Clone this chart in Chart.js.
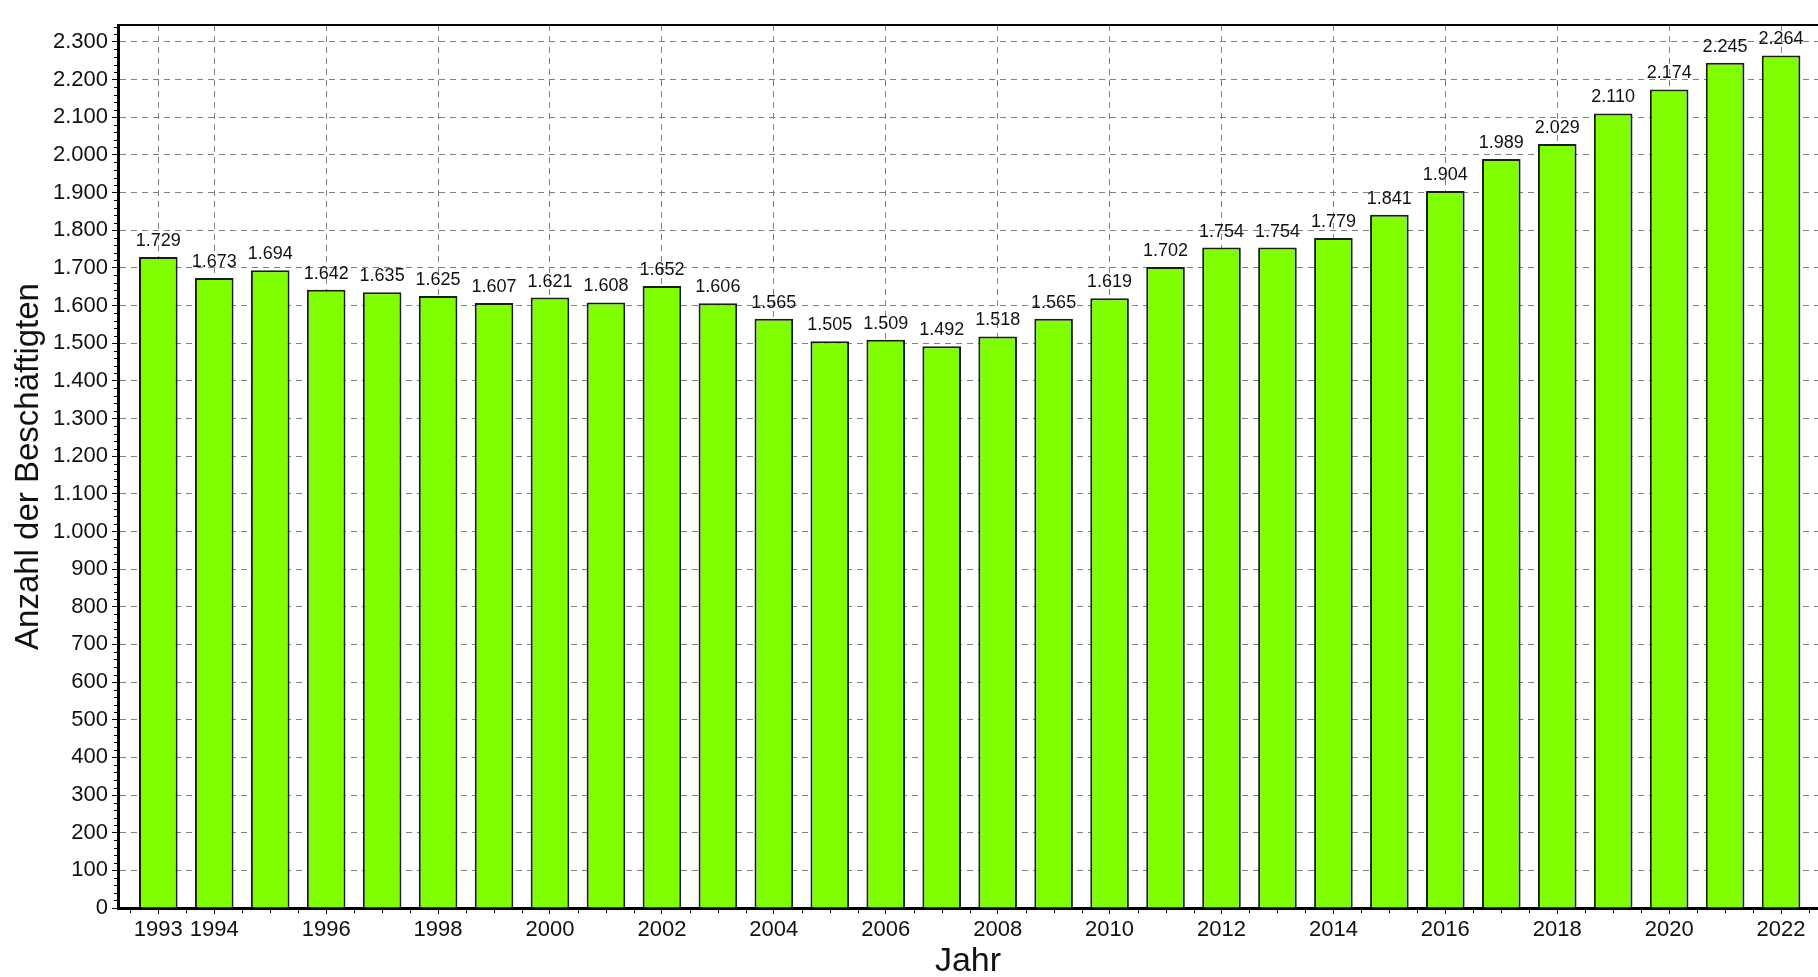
<!DOCTYPE html>
<html>
<head>
<meta charset="utf-8">
<script src="https://cdn.jsdelivr.net/npm/chart.js@4.4.1/dist/chart.umd.min.js"></script>
<style>
  html, body { margin: 0; padding: 0; background: #fff; }
  #box { width: 1818px; height: 977px; position: relative; }
</style>
</head>
<body>
<div id="box"><canvas id="chart"></canvas></div>
<script>
const years = [1993, 1994, 1995, 1996, 1997, 1998, 1999, 2000, 2001, 2002,
  2003, 2004, 2005, 2006, 2007, 2008, 2009, 2010, 2011, 2012,
  2013, 2014, 2015, 2016, 2017, 2018, 2019, 2020, 2021, 2022];
const employees = [1729, 1673, 1694, 1642, 1635, 1625, 1607, 1621, 1608, 1652,
  1606, 1565, 1505, 1509, 1492, 1518, 1565, 1619, 1702, 1754,
  1754, 1779, 1841, 1904, 1989, 2029, 2110, 2174, 2245, 2264];
const xLabelYears = [1993, 1994, 1996, 1998, 2000, 2002, 2004, 2006, 2008, 2010,
  2012, 2014, 2016, 2018, 2020, 2022];

const C = {
  bar: "#80FF00",
  barEdge: "#1c1c1c",
  ink: "#111111",
  grid: "#808080",
  axis: "#000000"
};
const FONT = "'Liberation Sans', Arial, sans-serif";

const fmtDE = v => String(Math.round(v)).replace(/\B(?=(\d{3})+(?!\d))/g, ".");

// value labels above bars + top frame line + minor ticks
const extras = {
  id: "extras",
  afterDatasetsDraw(chart) {
    const ctx = chart.ctx;
    const meta = chart.getDatasetMeta(0);
    ctx.save();
    ctx.font = "18px " + FONT;
    ctx.fillStyle = C.ink;
    ctx.textAlign = "center";
    ctx.textBaseline = "bottom";
    meta.data.forEach((bar, i) => {
      ctx.fillText(fmtDE(employees[i]), bar.x, bar.y - 7);
    });
    ctx.restore();
  },
  afterDraw(chart) {
    const ctx = chart.ctx;
    const a = chart.chartArea;
    const xs = chart.scales.x;
    const ys = chart.scales.y;
    ctx.save();
    // top frame
    ctx.strokeStyle = C.axis;
    ctx.lineWidth = 2;
    ctx.beginPath();
    ctx.moveTo(a.left, a.top);
    ctx.lineTo(a.right, a.top);
    ctx.stroke();
    // minor ticks
    ctx.lineWidth = 1;
    ctx.beginPath();
    for (let v = Math.ceil(xs.min * 2) / 2; v <= xs.max; v += 0.5) {
      if (xLabelYears.includes(v)) continue;
      const px = Math.round(xs.getPixelForValue(v)) + 0.5;
      ctx.moveTo(px, a.bottom);
      ctx.lineTo(px, a.bottom + 5);
    }
    for (let v = 20; v <= ys.max; v += 20) {
      if (v % 100 === 0) continue;
      const py = Math.round(ys.getPixelForValue(v)) + 0.5;
      ctx.moveTo(a.left - 4, py);
      ctx.lineTo(a.left, py);
    }
    ctx.stroke();
    ctx.restore();
  }
};

new Chart(document.getElementById("chart"), {
  type: "bar",
  data: {
    datasets: [{
      data: years.map((y, i) => ({ x: y, y: employees[i] })),
      backgroundColor: C.bar,
      borderColor: C.barEdge,
      borderWidth: 2,
      borderSkipped: "bottom",
      categoryPercentage: 1,
      barPercentage: 0.69
    }]
  },
  options: {
    responsive: true,
    maintainAspectRatio: false,
    animation: false,
    layout: { padding: { top: 25, right: 0, left: 0, bottom: 0 } },
    plugins: { legend: { display: false }, tooltip: { enabled: false } },
    scales: {
      x: {
        type: "linear",
        min: 1992.28,
        max: 2022.66,
        offset: false,
        afterBuildTicks(scale) {
          scale.ticks = xLabelYears.map(v => ({ value: v }));
        },
        afterFit(scale) { scale.height = 69; },
        ticks: {
          autoSkip: false,
          maxRotation: 0,
          padding: 3,
          color: C.ink,
          font: { family: FONT, size: 22 },
          callback: v => String(v)
        },
        grid: {
          offset: false,
          color: C.grid,
          lineWidth: 1,
          tickColor: C.axis,
          tickLength: 6
        },
        border: { color: C.axis, width: 3, dash: [6, 5] },
        title: {
          display: true,
          text: "Jahr",
          color: C.ink,
          font: { family: FONT, size: 34, lineHeight: 0.9 },
          padding: { top: 0, bottom: 0 }
        }
      },
      y: {
        min: 0,
        max: 2345,
        afterFit(scale) { scale.width = 118; },
        ticks: {
          stepSize: 100,
          includeBounds: false,
          padding: 4,
          color: C.ink,
          font: { family: FONT, size: 22 },
          callback: v => fmtDE(v)
        },
        grid: {
          color: C.grid,
          lineWidth: 1,
          tickColor: C.axis,
          tickLength: 6
        },
        border: { color: C.axis, width: 3, dash: [6, 5] },
        title: {
          display: true,
          text: "Anzahl der Beschäftigten",
          color: C.ink,
          font: { family: FONT, size: 33 },
          padding: { top: 9, bottom: 0 }
        }
      }
    }
  },
  plugins: [extras]
});
</script>
</body>
</html>
